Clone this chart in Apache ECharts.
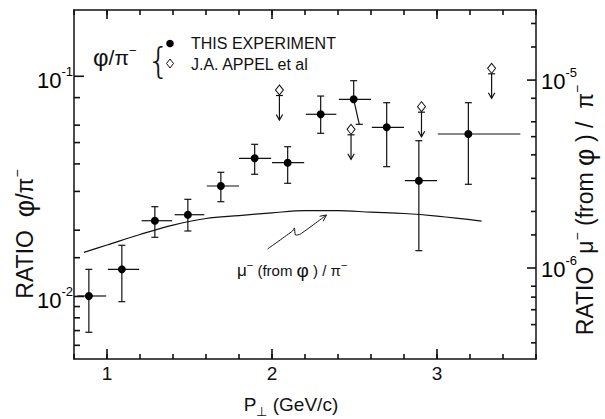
<!DOCTYPE html>
<html>
<head>
<meta charset="utf-8">
<script src="https://cdn.jsdelivr.net/npm/echarts@6/dist/echarts.min.js"></script>
<style>html,body{margin:0;padding:0;background:#fff}#c{width:605px;height:419px}</style>
</head>
<body>
<div id="c"></div>
<script>
// ---- axis ranges ----
const xMin = 0.8, xMax = 3.6;
const yLeftMin = 0.0052, yLeftMax = 0.2;
const yRightMin = 3.28e-7, yRightMax = 2.36e-5;

// ---- tick values / labels ----
const xMajorTicks = [1, 2, 3];
const leftMajorTicks = [0.01, 0.1];
const leftMajorExp = ['-2', '-1'];
const leftMinorTicks = [0.006, 0.007, 0.008, 0.009, 0.015, 0.02, 0.03, 0.04, 0.05, 0.06, 0.08];
const rightMajorTicks = [1e-6, 1e-5];
const rightMajorExp = ['-6', '-5'];
const rightMinorTicks = [4e-7, 5e-7, 6e-7, 7e-7, 8e-7, 1.5e-6, 2e-6, 3e-6, 4e-6, 5e-6, 6e-6, 8e-6, 1.5e-5, 2e-5];

// ---- THIS EXPERIMENT: phi/pi- ratio ----
const ptX    = [0.89, 1.09, 1.29, 1.49, 1.69, 1.895, 2.095, 2.295, 2.495, 2.695, 2.89, 3.19];
const ptY    = [0.01005, 0.01328, 0.02208, 0.02351, 0.03175, 0.0424, 0.0405, 0.0672, 0.0786, 0.05865, 0.03355, 0.05468];
const ptHi   = [0.01328, 0.01708, 0.02557, 0.02762, 0.03664, 0.0491, 0.04788, 0.08133, 0.09548, 0.07586, 0.05097, 0.07586];
const ptLo   = [0.006877, 0.009469, 0.01857, 0.01983, 0.02694, 0.03589, 0.03266, 0.05509, 0.0605, 0.03886, 0.01614, 0.03232];
const binLo  = [0.82, 1.005, 1.21, 1.41, 1.605, 1.80, 2.0, 2.205, 2.405, 2.605, 2.805, 3.005];
const binHi  = [0.995, 1.195, 1.395, 1.59, 1.80, 1.995, 2.195, 2.39, 2.60, 2.80, 3.0, 3.505];
const loEndX = [0.89, 1.09, 1.29, 1.49, 1.69, 1.895, 2.095, 2.295, 2.529, 2.695, 2.89, 3.19];

// ---- J.A. APPEL et al: upper limits ----
const appelX = [2.045, 2.479, 2.906, 3.331];
const appelY = [0.08663, 0.05743, 0.07276, 0.1087];

// ---- mu-(from phi)/pi- curve (right axis) ----
const curveX = [0.86, 1.0, 1.2, 1.4, 1.6, 1.8, 2.0, 2.2, 2.4, 2.6, 2.8, 3.0, 3.27];
const curveY = [1.212e-6, 1.325e-6, 1.507e-6, 1.693e-6, 1.834e-6, 1.900e-6, 1.966e-6, 2.020e-6, 2.020e-6, 1.981e-6, 1.950e-6, 1.888e-6, 1.778e-6];

// ---- annotation arrow path (left-axis units) ----
const annoX = [1.973, 2.124, 2.136, 2.142, 2.172, 2.330];
const annoY = [0.01643, 0.01983, 0.02046, 0.01902, 0.01921, 0.02344];

const FONT = '"Liberation Sans", Arial, sans-serif';
const INK = '#111';
const LW = 1.2;
const TW = 1.6; // tick thickness

const chart = echarts.init(document.getElementById('c'), null, {renderer: 'svg', width: 605, height: 419});

const supRich = {
  b: {fontSize: 22, fontFamily: FONT, color: INK},
  s: {fontSize: 13, fontFamily: FONT, color: INK, padding: [0, 0, 18, 0]}
};
const lineStyle = {stroke: INK, lineWidth: LW};
function hLine(x1, y, x2) {
  return {type: 'line', shape: {x1: x1, y1: y, x2: x2, y2: y}, style: lineStyle};
}

// ticks on a vertical axis: value in dim 1, signed length in dim 2
function yTickRender(edgeX) {
  return function (params, api) {
    const p = api.coord([edgeX, api.value(1)]);
    const len = api.value(2);
    return {type: 'line', shape: {x1: p[0], y1: p[1], x2: p[0] + len, y2: p[1]}, style: {stroke: INK, lineWidth: TW}, z2: 10};
  };
}
function yLabelRender(edgeX, exps, ticks, dx, dy, align) {
  return function (params, api) {
    const v = api.value(1);
    const p = api.coord([edgeX, v]);
    const e = exps[ticks.indexOf(v)];
    return {type: 'text', x: p[0] + dx, y: p[1] + dy,
      style: {text: '{b|10}{s|' + e + '}', rich: supRich, align: align, verticalAlign: 'middle'}};
  };
}
function xMajorRender(params, api) {
  const pb = api.coord([api.value(0), yLeftMin]);
  const pt = api.coord([api.value(0), yLeftMax]);
  const st = {stroke: INK, lineWidth: TW};
  return {type: 'group', children: [
    {type: 'line', shape: {x1: pb[0], y1: pb[1], x2: pb[0], y2: pb[1] - 10}, style: st},
    {type: 'line', shape: {x1: pt[0], y1: pt[1], x2: pt[0], y2: pt[1] + 9}, style: st}
  ]};
}
function errRender(params, api) {
  const c = api.coord([api.value(0), api.value(1)]);
  const lo = api.coord([api.value(6), api.value(2)]);
  const hi = api.coord([api.value(0), api.value(3)]);
  const l = api.coord([api.value(4), api.value(1)]);
  const r = api.coord([api.value(5), api.value(1)]);
  const cap = 3.5;
  return {type: 'group', children: [
    {type: 'line', shape: {x1: c[0], y1: c[1], x2: hi[0], y2: hi[1]}, style: lineStyle},
    {type: 'line', shape: {x1: c[0], y1: c[1], x2: lo[0], y2: lo[1]}, style: lineStyle},
    hLine(hi[0] - cap, hi[1], hi[0] + cap),
    hLine(lo[0] - cap, lo[1], lo[0] + cap),
    hLine(l[0], l[1], r[0])
  ]};
}
function limitRender(params, api) {
  const c = api.coord([api.value(0), api.value(1)]);
  const x = c[0], y = c[1];
  return {type: 'group', children: [
    hLine(x - 3.5, y + 5.5, x + 3.5),
    {type: 'line', shape: {x1: x, y1: y + 5.5, x2: x, y2: y + 30}, style: lineStyle},
    {type: 'polyline', shape: {points: [[x - 3.2, y + 24.5], [x, y + 30], [x + 3.2, y + 24.5]]}, style: {stroke: INK, lineWidth: LW, fill: 'none'}}
  ]};
}
function annoRender(params, api) {
  const pts = annoX.map((x, i) => api.coord([x, annoY[i]]));
  const n = pts.length, tip = pts[n - 1], prev = pts[n - 2];
  const ang = Math.atan2(tip[1] - prev[1], tip[0] - prev[0]);
  const L = 7, a = 0.45;
  const w1 = [tip[0] - L * Math.cos(ang - a), tip[1] - L * Math.sin(ang - a)];
  const w2 = [tip[0] - L * Math.cos(ang + a), tip[1] - L * Math.sin(ang + a)];
  const st = {stroke: INK, lineWidth: 1, fill: 'none'};
  return {type: 'group', children: [
    {type: 'polyline', shape: {points: pts, smooth: 0.2}, style: st},
    {type: 'polyline', shape: {points: [w1, tip, w2]}, style: st}
  ]};
}

const titleRich = {
  b: {fontSize: 23, fontFamily: FONT, fill: INK, color: INK},
  g: {fontSize: 27, fontFamily: FONT, fill: INK, color: INK},
  s: {fontSize: 14, fontFamily: FONT, fill: INK, color: INK, padding: [0, 0, 16, 0]}
};

const option = {
  backgroundColor: '#fff',
  animation: false,
  grid: {left: 74, right: 69, top: 10, bottom: 60, outerBoundsMode: 'none', containLabel: false},
  xAxis: [{
    type: 'value', min: xMin, max: xMax, interval: 0.2, position: 'bottom',
    axisLine: {show: true, lineStyle: {color: INK, width: 1.5}},
    axisTick: {show: true, inside: true, length: 5, lineStyle: {color: INK, width: TW}},
    axisLabel: {show: true, margin: 5, fontSize: 19, fontFamily: FONT, color: INK,
      formatter: v => (Math.abs(v - Math.round(v)) < 1e-6 && xMajorTicks.indexOf(Math.round(v)) >= 0) ? String(Math.round(v)) : ''},
    splitLine: {show: false}
  }, {
    type: 'value', min: xMin, max: xMax, interval: 0.2, position: 'top',
    axisLine: {show: true, lineStyle: {color: INK, width: 1.5}},
    axisTick: {show: true, inside: true, length: 5, lineStyle: {color: INK, width: TW}},
    axisLabel: {show: false}, splitLine: {show: false}
  }],
  yAxis: [{
    type: 'log', logBase: 10, min: yLeftMin, max: yLeftMax, position: 'left',
    axisLine: {show: true, lineStyle: {color: INK, width: 1.5}},
    axisTick: {show: false}, axisLabel: {show: false}, splitLine: {show: false}, minorTick: {show: false}
  }, {
    type: 'log', logBase: 10, min: yRightMin, max: yRightMax, position: 'right',
    axisLine: {show: true, lineStyle: {color: INK, width: 1.5}},
    axisTick: {show: false}, axisLabel: {show: false}, splitLine: {show: false}, minorTick: {show: false}
  }],
  series: [
    {type: 'custom', name: 'x major ticks', xAxisIndex: 0, yAxisIndex: 0, renderItem: xMajorRender,
      data: xMajorTicks.map(v => [v, yLeftMin]), z: 5},
    {type: 'custom', name: 'left ticks', xAxisIndex: 0, yAxisIndex: 0, renderItem: yTickRender(xMin),
      data: leftMajorTicks.map(v => [xMin, v, 10]).concat(leftMinorTicks.map(v => [xMin, v, 6])), z: 5},
    {type: 'custom', name: 'left labels', xAxisIndex: 0, yAxisIndex: 0,
      renderItem: yLabelRender(xMin, leftMajorExp, leftMajorTicks, -1, 4, 'right'),
      data: leftMajorTicks.map(v => [xMin, v]), z: 5},
    {type: 'custom', name: 'right ticks', xAxisIndex: 0, yAxisIndex: 1, renderItem: yTickRender(xMax),
      data: rightMajorTicks.map(v => [xMax, v, -9]).concat(rightMinorTicks.map(v => [xMax, v, -5])), z: 5},
    {type: 'custom', name: 'right labels', xAxisIndex: 0, yAxisIndex: 1,
      renderItem: yLabelRender(xMax, rightMajorExp, rightMajorTicks, 5, 1, 'left'),
      data: rightMajorTicks.map(v => [xMax, v]), z: 5},
    {type: 'line', name: 'μ−(from φ)/π−', xAxisIndex: 0, yAxisIndex: 1, smooth: 0.35, symbol: 'none',
      lineStyle: {color: INK, width: 1.2}, data: curveX.map((x, i) => [x, curveY[i]]), z: 2},
    {type: 'custom', name: 'error bars', xAxisIndex: 0, yAxisIndex: 0, renderItem: errRender,
      data: ptX.map((x, i) => [x, ptY[i], ptLo[i], ptHi[i], binLo[i], binHi[i], loEndX[i]]), z: 4},
    {type: 'scatter', name: 'THIS EXPERIMENT', xAxisIndex: 0, yAxisIndex: 0, symbol: 'circle', symbolSize: 8,
      itemStyle: {color: '#000', opacity: 1}, data: ptX.map((x, i) => [x, ptY[i]]), z: 6},
    {type: 'custom', name: 'upper limits', xAxisIndex: 0, yAxisIndex: 0, renderItem: limitRender,
      data: appelX.map((x, i) => [x, appelY[i]]), z: 4},
    {type: 'scatter', name: 'J.A. APPEL et al', xAxisIndex: 0, yAxisIndex: 0, symbol: 'diamond', symbolSize: [8, 10],
      itemStyle: {color: '#fff', borderColor: INK, borderWidth: 1, opacity: 1}, data: appelX.map((x, i) => [x, appelY[i]]), z: 6},
    {type: 'custom', name: 'annotation', xAxisIndex: 0, yAxisIndex: 0, renderItem: annoRender, data: [[annoX[0], annoY[0]]], z: 4}
  ],
  graphic: [
    // axis titles
    {type: 'text', x: 25, y: 234, rotation: Math.PI / 2,
      style: {text: '{b|RATIO  }{g|φ}{b|/π}{s|−}', rich: titleRich, align: 'center', verticalAlign: 'middle'}},
    {type: 'text', x: 585, y: 210, rotation: Math.PI / 2,
      style: {text: '{b|RATIO  μ}{s|−}{b| (from }{g|φ}{b| ) /  π}{s|−}', rich: titleRich, align: 'center', verticalAlign: 'middle'}},
    {type: 'text', x: 291, y: 404,
      style: {text: '{p|P}{u|⊥}{p| (GeV/c)}', align: 'center', verticalAlign: 'middle', rich: {
        p: {fontSize: 19, fontFamily: FONT, fill: INK, color: INK},
        u: {fontSize: 13, fontFamily: FONT, fill: INK, color: INK, padding: [14, 0, 0, 0]}
      }}},
    // legend
    {type: 'text', left: 93, top: 44, style: {text: '{g|φ}{b|/π}{s|−}', rich: {
      g: {fontSize: 24, fontFamily: FONT, fill: INK, color: INK},
      b: {fontSize: 21, fontFamily: FONT, fill: INK, color: INK},
      s: {fontSize: 13, fontFamily: FONT, fill: INK, color: INK, padding: [0, 0, 14, 0]}
    }}},
    {type: 'text', left: 147, top: 42, style: {text: '{', fontSize: 36, fontFamily: '"DejaVu Sans", sans-serif', fontWeight: 200, fill: INK}},
    {type: 'circle', shape: {cx: 170, cy: 43.5, r: 3.8}, style: {fill: '#000'}},
    {type: 'polygon', shape: {points: [[170, 59], [173.5, 63.5], [170, 68], [166.5, 63.5]]}, style: {fill: '#fff', stroke: INK, lineWidth: 1}},
    {type: 'text', left: 191, top: 35, style: {text: 'THIS EXPERIMENT', fontSize: 16, fontFamily: FONT, fill: INK}},
    {type: 'text', left: 191, top: 56, style: {text: 'J.A. APPEL et al', fontSize: 16, fontFamily: FONT, fill: INK}},
    // curve label
    {type: 'text', left: 237, top: 259, style: {text: '{m|μ}{s|−}{t| (from }{g|φ}{t| ) / π}{s|−}', rich: {
      m: {fontSize: 17, fontFamily: FONT, fill: INK, color: INK},
      t: {fontSize: 15, fontFamily: FONT, fill: INK, color: INK},
      g: {fontSize: 19, fontFamily: FONT, fill: INK, color: INK},
      s: {fontSize: 11, fontFamily: FONT, fill: INK, color: INK, padding: [0, 0, 12, 0]}
    }}}
  ]
};
chart.setOption(option);
</script>
</body>
</html>
